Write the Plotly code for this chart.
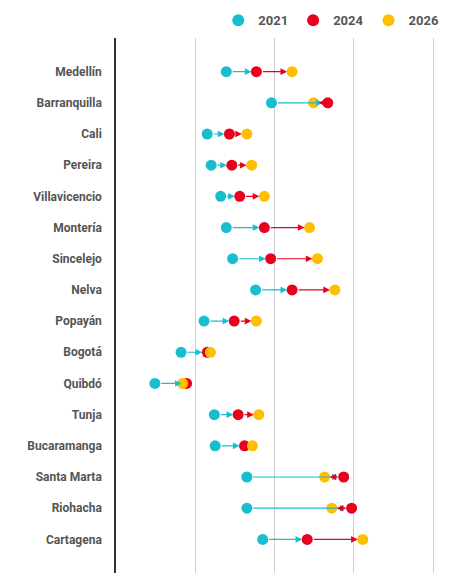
import plotly.graph_objects as go

ciudades = ["Medellín", "Barranquilla", "Cali", "Pereira", "Villavicencio", "Montería",
            "Sincelejo", "Nelva", "Popayán", "Bogotá", "Quibdó", "Tunja",
            "Bucaramanga", "Santa Marta", "Riohacha", "Cartagena"]
v2021 = [1.39, 1.96, 1.15, 1.20, 1.32, 1.39, 1.47, 1.76, 1.11, 0.82, 0.49, 1.24, 1.25, 1.65, 1.65, 1.85]
v2024 = [1.77, 2.67, 1.43, 1.46, 1.56, 1.87, 1.95, 2.22, 1.49, 1.15, 0.89, 1.54, 1.62, 2.87, 2.97, 2.41]
v2026 = [2.22, 2.49, 1.65, 1.71, 1.87, 2.44, 2.54, 2.76, 1.77, 1.19, 0.84, 1.80, 1.72, 2.63, 2.72, 3.11]

c21, c24, c26 = "#17BECF", "#E8001C", "#FFBF00"

fig = go.Figure()
for nombre, vals, col in [("2021", v2021, c21), ("2024", v2024, c24), ("2026", v2026, c26)]:
    fig.add_trace(go.Scatter(x=vals, y=ciudades, mode="markers", name=nombre,
                             marker=dict(size=11, color=col)))

# flechas 2021->2024 y 2024->2026
for i, c in enumerate(ciudades):
    for x0, x1, col in [(v2021[i], v2024[i], c21), (v2024[i], v2026[i], c24)]:
        fig.add_annotation(x=x1, y=c, ax=x0, ay=c, xref="x", yref="y", axref="x", ayref="y",
                           showarrow=True, arrowhead=2, arrowsize=1.1, arrowwidth=1.2,
                           arrowcolor=col, standoff=5, startstandoff=5, text="")

fig.update_layout(
    width=473, height=580, plot_bgcolor="white", paper_bgcolor="white",
    margin=dict(l=108, r=12, t=30, b=15, autoexpand=False),
    font=dict(family="Roboto", color="#555555"),
    legend=dict(orientation="h", x=0.93, xanchor="right", y=1.005, yanchor="bottom",
                font=dict(size=13, color="#555555", weight="bold"), itemsizing="constant"),
    xaxis=dict(range=[0, 4.45], dtick=1, showticklabels=False, showgrid=True,
               gridcolor="#D0D0D0", zeroline=False, showline=False),
    yaxis=dict(autorange="reversed", showline=True, linecolor="#333333", linewidth=1.5,
               showgrid=False, tickfont=dict(size=12, color="#555555", weight="bold"),
               ticks="", ticklabelstandoff=10),
)
fig.write_html("out.html")
